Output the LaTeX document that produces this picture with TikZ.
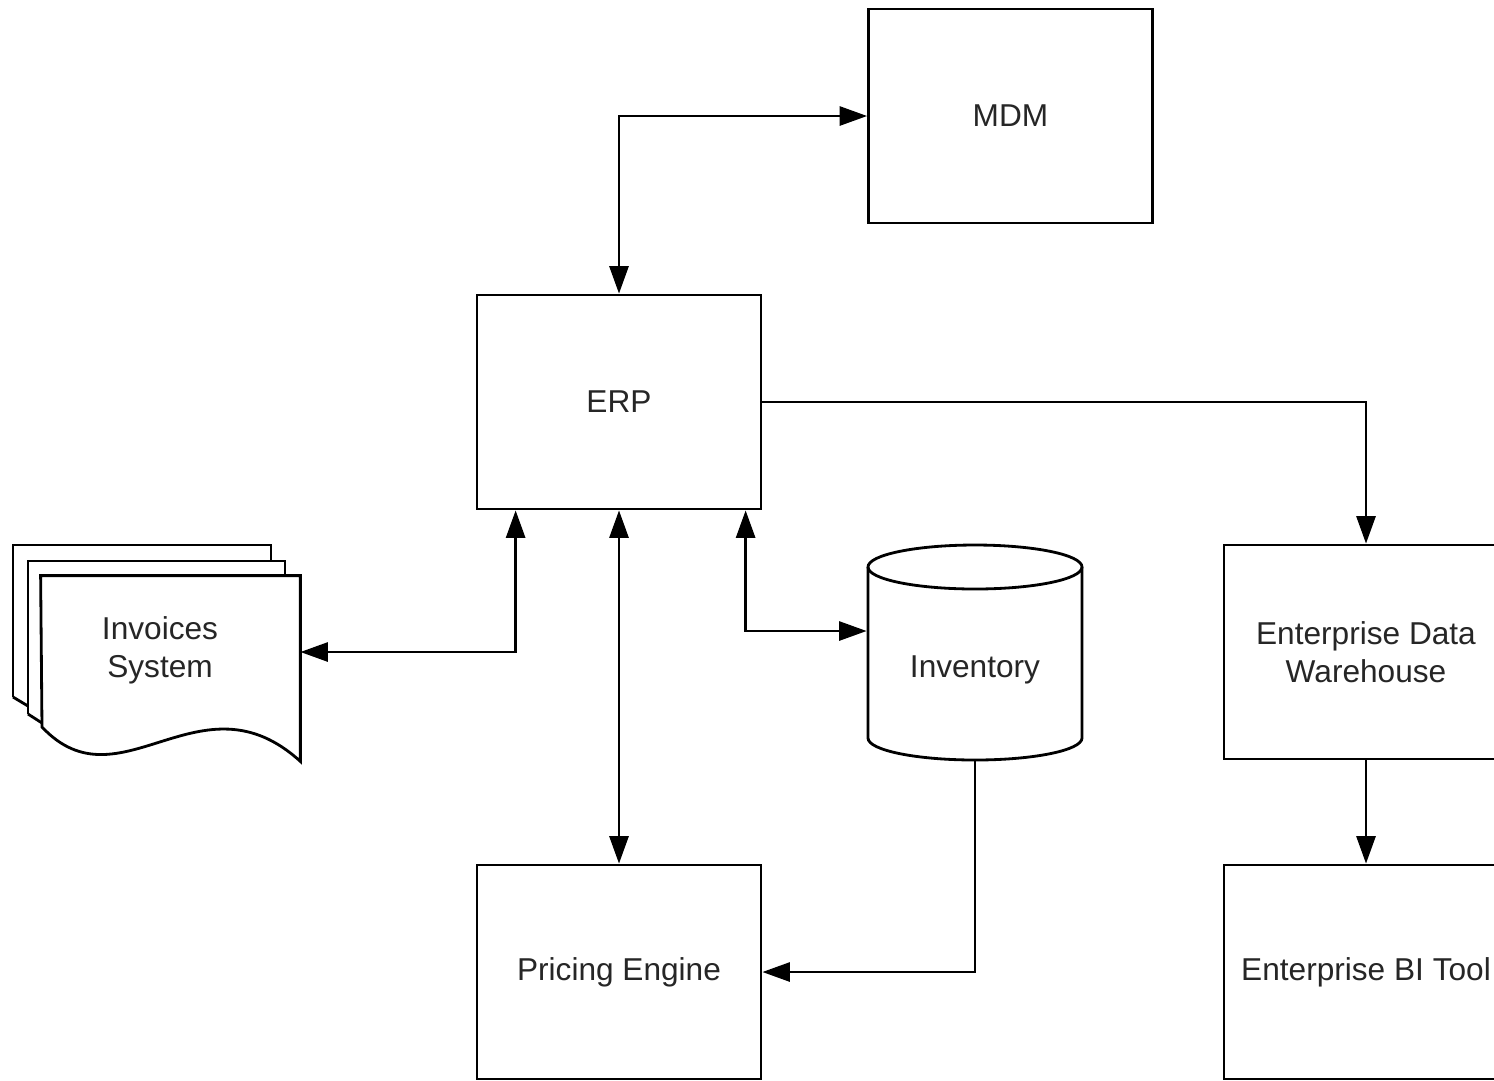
\documentclass[tikz,border=0pt]{standalone}
\usepackage{fontspec}
\setmainfont{Liberation Sans}
\usetikzlibrary{arrows.meta, positioning, calc}

\begin{document}
\begin{tikzpicture}[
    x=0.02cm, y=0.02cm,
    line width=1.6pt,
    block/.style={draw, fill=white, minimum width=5.68cm, minimum height=4.28cm, inner sep=0pt, align=center, font=\fontsize{18}{21.6}\selectfont, text=black!85},
    label/.style={inner sep=0pt, align=center, font=\fontsize{18}{21.6}\selectfont, text=black!85},
    hull/.style={inner sep=0pt, minimum width=#1},
    link/.style={draw, -{Triangle[length=0.55cm,width=0.38cm]}},
    both/.style={draw, {Triangle[length=0.55cm,width=0.38cm]}-{Triangle[length=0.55cm,width=0.38cm]}}
]
    \clip (0,0) rectangle (1494,-1080);

    % Systems
    \node[block] (mdm) at (1010.5,-116) {MDM};
    \node[block] (erp) at (619,-402) {ERP};
    \node[block] (price) at (619,-972) {Pricing Engine};
    \node[block] (edw) at (1366,-652) {Enterprise Data\\Warehouse};
    \node[block] (bi) at (1366,-972) {Enterprise BI Tool};

    % Invoices (stacked documents)
    \node[hull=5.14cm, minimum height=3.66cm] (inv) at (170.5,-668.5) {};
    \draw (13,-697) -- (13,-545) -- (271,-545) -- (271,-561);
    \draw (13,-697) -- (28,-706);
    \draw (28,-714) -- (28,-561) -- (285,-561) -- (285,-577);
    \draw (28,-714) -- (42,-723);
    \draw[fill=white] (inv.north west) -- (inv.north east) -- (inv.south east)
        .. controls (200,-670) and (120,-810) .. (42,-727) -- cycle;
    \node[label] (invtxt) at (160,-650) {Invoices\\System};

    % Inventory (cylinder)
    \node[hull=4.28cm, minimum height=4.3cm] (stock) at (975,-652.5) {};
    \draw[fill=white] (868,-567) -- (868,-738) arc[start angle=180, end angle=360, x radius=107, y radius=22] -- (1082,-567);
    \draw (975,-567) ellipse [x radius=107, y radius=22];
    \node[label] (stocktxt) at (975,-670) {Inventory};

    % Connectors
    \draw[both] (erp.north) |- (mdm.west);
    \draw[link] (erp.east) -| (edw.north);
    \draw[both] ($(erp.south west)+(40,0)$) |- ($(inv.east)+(0,16.5)$);
    \draw[both] (erp.south) -- (price.north);
    \draw[both] ($(erp.south west)+(270,0)$) |- ($(stock.west)+(0,21.5)$);
    \draw[link] (stock.south) |- (price.east);
    \draw[link] (edw.south) -- (bi.north);
\end{tikzpicture}
\end{document}
